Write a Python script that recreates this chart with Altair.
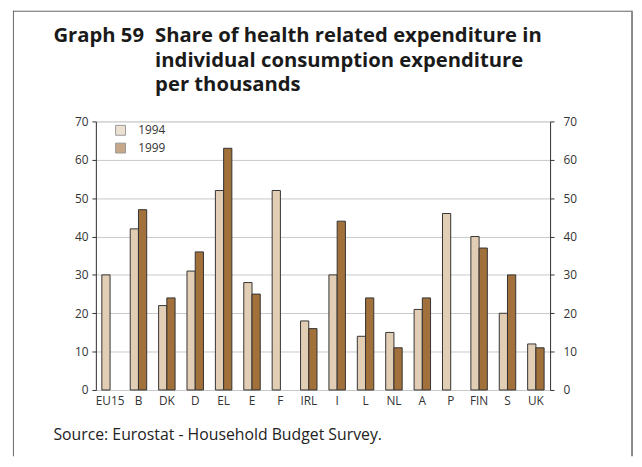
import altair as alt
import pandas as pd

countries = ["EU15", "B", "DK", "D", "EL", "E", "F", "IRL", "I", "L", "NL", "A", "P", "FIN", "S", "UK"]
v1994 = [30, 42, 22, 31, 52, 28, 52, 18, 30, 14, 15, 21, 46, 40, 20, 12]
v1999 = [None, 47, 24, 36, 63, 25, None, 16, 44, 24, 11, 24, None, 37, 30, 11]
years = ["1994", "1999"]
colors = ["#e2ceb5", "#a1703b"]
y_ticks = [0, 10, 20, 30, 40, 50, 60, 70]
title_label = "Graph 59"
title_lines = ["Share of health related expenditure in",
               "individual consumption expenditure",
               "per thousands"]
source_text = "Source: Eurostat - Household Budget Survey."

rows = []
for c, a, b in zip(countries, v1994, v1999):
    if a is not None:
        rows.append({"country": c, "year": "1994", "value": a})
    if b is not None:
        rows.append({"country": c, "year": "1999", "value": b})
df = pd.DataFrame(rows)

PL, PT, PR, PB = 89, 112, 85, 67
W, H = 460, 272
FONT = "Open Sans"

x_enc = alt.X("country:N", sort=countries,
              scale=alt.Scale(paddingInner=0.42, paddingOuter=0.21),
              axis=alt.Axis(title=None, labelAngle=0, ticks=False, domain=False,
                            labelFontSize=12, labelColor="#333", labelPadding=6))
xoff = alt.XOffset("year:N", scale=alt.Scale(domain=years))

axis_common = dict(title=None, values=y_ticks, labelFontSize=12, labelColor="#333",
                   tickSize=4, tickColor="#333", domainColor="#333")

bars = alt.Chart(df).mark_bar(stroke="#333", strokeWidth=1).encode(
    x=x_enc,
    xOffset=xoff,
    y=alt.Y("value:Q", scale=alt.Scale(domain=[0, 70]),
            axis=alt.Axis(grid=True, gridColor="#c8c8c8", labelPadding=4, **axis_common)),
    color=alt.Color("year:N", scale=alt.Scale(domain=years, range=colors),
                    legend=alt.Legend(title=None, orient="none", legendX=19, legendY=3,
                                      symbolType="square", symbolSize=100,
                                      symbolOpacity=0.6, symbolStrokeColor="#555",
                                      symbolStrokeWidth=1, labelFontSize=12,
                                      labelColor="#333", rowPadding=4, labelOffset=12)),
)

right_axis = alt.Chart(df).mark_bar(opacity=0).encode(
    x=x_enc,
    xOffset=xoff,
    y=alt.Y("value:Q", scale=alt.Scale(domain=[0, 70]),
            axis=alt.Axis(orient="right", grid=False, labelPadding=9, **axis_common)),
)

plot = alt.layer(bars, right_axis).resolve_scale(y="independent")

one = alt.Data(values=[{"k": 1}])

frame_top = alt.Chart(one).mark_rect(color="#666").encode(
    x=alt.value(5 - PL), x2=alt.value(632 - PL), y=alt.value(0 - PT), y2=alt.value(1 - PT))
frame_left = alt.Chart(one).mark_rect(color="#666").encode(
    x=alt.value(5 - PL), x2=alt.value(6 - PL), y=alt.value(0 - PT), y2=alt.value(H + PB))
frame_right = alt.Chart(one).mark_rect(color="#8a8a8a").encode(
    x=alt.value(631 - PL), x2=alt.value(633 - PL), y=alt.value(0 - PT), y2=alt.value(H + PB))

t_label = alt.Chart(one).mark_text(text=title_label, font=FONT, fontSize=20.5, fontWeight="bold",
                                   align="left", baseline="alphabetic", color="#1a1a1a").encode(
    x=alt.value(-43), y=alt.value(-80))
t_lines = alt.Chart(one).mark_text(text=title_lines, font=FONT, fontSize=20.5, fontWeight="bold",
                                   align="left", baseline="alphabetic", lineHeight=24.5,
                                   color="#1a1a1a").encode(
    x=alt.value(60), y=alt.value(-80))
t_source = alt.Chart(one).mark_text(text=source_text, font=FONT, fontSize=16,
                                    align="left", baseline="alphabetic", color="#222").encode(
    x=alt.value(-43), y=alt.value(323))

chart = alt.layer(
    plot, t_label, t_lines, t_source, frame_top, frame_left, frame_right
).resolve_scale(x="independent", xOffset="independent").properties(
    width=W, height=H,
    autosize=alt.AutoSizeParams(type="none"),
    padding={"left": PL, "top": PT, "right": PR, "bottom": PB},
).configure_view(stroke="#333", strokeWidth=1).configure(font=FONT, background="white")

chart.save("out.html", embed_options={"renderer": "svg", "actions": False})
